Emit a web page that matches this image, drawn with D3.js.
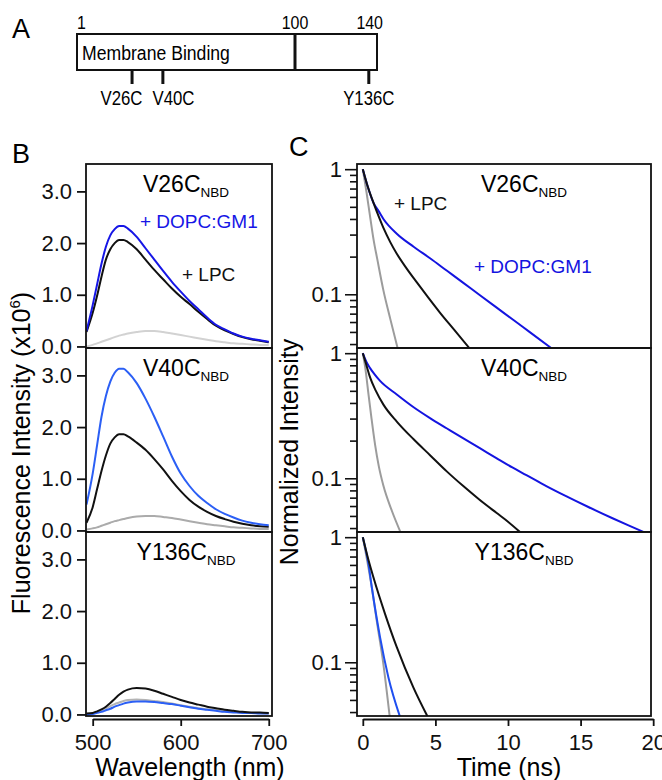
<!DOCTYPE html>
<html>
<head>
<meta charset="utf-8">
<script src="https://cdn.jsdelivr.net/npm/d3@7/dist/d3.min.js"></script>
<style>
body{margin:0;background:#fff;}
svg{font-family:"Liberation Sans",Arial,Helvetica,sans-serif;}
</style>
</head>
<body>
<svg id="fig" width="662" height="780"></svg>
<script>
// ---- panel A: protein schematic ----
var domainEnds = [1, 100, 140]
var mutants = ["V26C", "V40C", "Y136C"]
var mutantResidues = [26, 40, 136]

// ---- panel B: emission spectra (x10^6) ----
var wavelengths = [493,500,505,510,515,520,525,530,535,540,550,560,570,580,590,600,610,620,630,640,650,660,670,680,690,700]
var v26Buffer = [0.0,0.03,0.06,0.09,0.12,0.15,0.18,0.21,0.23,0.25,0.28,0.3,0.3,0.28,0.25,0.22,0.19,0.16,0.13,0.1,0.08,0.06,0.05,0.04,0.03,0.03]
var v26Lpc = [0.28,0.65,0.98,1.35,1.68,1.88,2.0,2.06,2.06,2.02,1.88,1.68,1.48,1.3,1.12,0.96,0.82,0.67,0.53,0.4,0.31,0.24,0.18,0.14,0.11,0.08]
var v26Lipid = [0.3,0.8,1.2,1.6,1.93,2.15,2.27,2.33,2.33,2.28,2.12,1.9,1.68,1.46,1.25,1.06,0.88,0.72,0.56,0.42,0.33,0.25,0.19,0.15,0.12,0.09]
var v40Buffer = [0.02,0.04,0.06,0.09,0.12,0.15,0.18,0.2,0.22,0.24,0.27,0.28,0.28,0.26,0.24,0.21,0.18,0.15,0.12,0.1,0.08,0.06,0.05,0.04,0.03,0.03]
var v40Lpc = [0.15,0.45,0.8,1.15,1.45,1.68,1.8,1.86,1.86,1.82,1.7,1.56,1.38,1.18,0.96,0.76,0.59,0.46,0.36,0.28,0.22,0.17,0.13,0.1,0.08,0.07]
var v40Lipid = [0.5,1.1,1.65,2.2,2.6,2.88,3.05,3.13,3.13,3.06,2.85,2.55,2.2,1.82,1.43,1.1,0.86,0.67,0.53,0.41,0.32,0.25,0.19,0.15,0.12,0.1]
var y136Buffer = [0.0,0.02,0.05,0.08,0.12,0.16,0.2,0.23,0.26,0.28,0.29,0.28,0.26,0.24,0.21,0.18,0.15,0.12,0.1,0.08,0.06,0.05,0.04,0.03,0.03,0.02]
var y136Lpc = [0.02,0.03,0.06,0.1,0.15,0.22,0.3,0.38,0.44,0.48,0.51,0.5,0.46,0.4,0.34,0.28,0.23,0.19,0.15,0.12,0.09,0.07,0.05,0.04,0.04,0.03]
var y136Lipid = [0.0,0.01,0.03,0.05,0.08,0.11,0.15,0.18,0.21,0.23,0.25,0.25,0.24,0.22,0.2,0.17,0.14,0.11,0.09,0.07,0.05,0.04,0.03,0.03,0.02,0.02]
var intensityTicks = [0, 1, 2, 3]
var wavelengthTicks = [500, 600, 700]

// ---- panel C: lifetime decays [time ns, normalized intensity] ----
var v26BufferDecay = [[0,1],[0.25,0.66],[0.5,0.42],[0.75,0.27],[1.0,0.19],[1.4,0.11],[1.9,0.063],[2.4,0.037]]
var v26LpcDecay = [[0,1],[0.35,0.72],[0.73,0.54],[1.1,0.417],[1.42,0.339],[1.9,0.26],[2.34,0.211],[3.0,0.162],[3.71,0.125],[4.5,0.0944],[5.31,0.0714],[6.3,0.0519],[7.35,0.037]]
var v26LipidDecay = [[0,1],[0.35,0.72],[0.73,0.54],[1.1,0.46],[1.42,0.4],[2.34,0.305],[3.5,0.24],[4.63,0.194],[5.8,0.154],[6.9,0.124],[8.0,0.0995],[9.2,0.0785],[10.4,0.062],[11.5,0.0498],[13.0,0.037]]
var v40BufferDecay = [[0,1],[0.2,0.72],[0.39,0.47],[0.6,0.3],[0.85,0.184],[1.1,0.125],[1.42,0.087],[2.0,0.055],[2.6,0.037]]
var v40LpcDecay = [[0,1],[0.25,0.8],[0.5,0.64],[0.9,0.5],[1.42,0.388],[2.34,0.284],[3.5,0.205],[4.63,0.153],[5.8,0.113],[6.9,0.087],[8.0,0.068],[9.2,0.053],[10.0,0.045],[10.85,0.037]]
var v40LipidDecay = [[0,1],[0.25,0.85],[0.5,0.76],[0.8,0.68],[1.19,0.6],[2.34,0.468],[3.5,0.37],[4.63,0.303],[5.8,0.25],[6.9,0.209],[8.06,0.174],[9.2,0.145],[10.3,0.122],[11.27,0.106],[12.64,0.0867],[14.0,0.072],[15.5,0.0592],[17.2,0.0479],[18.3,0.042],[19.4,0.037]]
var y136BufferDecay = [[0,1],[0.6,0.41],[1.0,0.2],[1.4,0.1],[1.85,0.037]]
var y136LpcDecay = [[0,1],[0.4,0.65],[0.73,0.478],[1.53,0.244],[2.34,0.132],[3.48,0.063],[4.45,0.037]]
var y136LipidDecay = [[0,1],[0.4,0.6],[0.62,0.398],[1.19,0.158],[1.76,0.076],[2.55,0.037]]
var decayMajorTicks = [0.1, 1]
var decayMinorTicks = [0.04,0.05,0.06,0.07,0.08,0.09,0.2,0.3,0.4,0.5,0.6,0.7,0.8,0.9]
var timeTicks = [0, 5, 10, 15, 20]

var svg = d3.select("#fig")
var panelH = 184
var panelTops = [164, 164 + panelH, 164 + 2 * panelH]

var lineB = function(xs, ys)
{
    return d3.line()
        .x(function(d, i) { return xs(wavelengths[i]); })
        .y(function(d) { return ys(d); })
        .curve(d3.curveMonotoneX)
}
var lineC = function(xs, ys)
{
    return d3.line()
        .x(function(d) { return xs(d[0]); })
        .y(function(d) { return ys(d[1]); })
        .curve(d3.curveMonotoneX)
}

var addTitle = function(g, name, x, y)
{
    var t = g.append("text")
        .attr("x", x).attr("y", y)
        .attr("text-anchor", "middle")
        .attr("font-size", 23)
    t.append("tspan").text(name)
    t.append("tspan").text("NBD").attr("font-size", 13.5).attr("dy", 5)
}

var addLabel = function(g, txt, x, y, color)
{
    g.append("text").text(txt)
        .attr("x", x).attr("y", y)
        .attr("font-size", 19)
        .attr("fill", color)
}

// narrow text used in the schematic
var narrowText = function(g, txt, x, y, anchor, size)
{
    return g.append("text").text(txt)
        .attr("transform", "translate(" + x + "," + y + ") scale(0.84,1)")
        .attr("text-anchor", anchor)
        .attr("font-size", size)
}

// ================= panel A =================
var drawSchematic = function()
{
    var xA = d3.scaleLinear().domain(domainEnds).range([77, 295, 377])
    var g = svg.append("g")
    g.append("text").text("A").attr("x", 12).attr("y", 38).attr("font-size", 27)
    g.append("rect")
        .attr("x", xA(1)).attr("y", 34)
        .attr("width", xA(140) - xA(1)).attr("height", 36)
        .attr("fill", "none").attr("stroke", "#111").attr("stroke-width", 2)
    g.append("line")
        .attr("x1", xA(100)).attr("x2", xA(100))
        .attr("y1", 34).attr("y2", 70)
        .attr("stroke", "#111").attr("stroke-width", 3)
    narrowText(g, "1", xA(1), 29, "start", 19)
    narrowText(g, "100", xA(100), 29, "middle", 19)
    narrowText(g, "140", xA(140) + 6, 29, "end", 19)
    narrowText(g, "Membrane Binding", xA(1) + 5, 60, "start", 21)

    g.selectAll(".mut")
        .data(mutantResidues)
        .enter()
        .append("line")
        .attr("x1", function(d) { return xA(d); })
        .attr("x2", function(d) { return xA(d); })
        .attr("y1", 70).attr("y2", 84)
        .attr("stroke", "#111").attr("stroke-width", 3)

    // keep the mutant labels from running into each other
    var labelX = mutantResidues.map(function(d) { return xA(d); })
    var minGap = 52
    for (var i = 1; i < labelX.length; i++) {
        var gap = labelX[i] - labelX[i - 1]
        if (gap < minGap) {
            labelX[i - 1] -= (minGap - gap) / 2
            labelX[i] += (minGap - gap) / 2
        }
    }
    mutants.forEach(function(m, i)
    {
        narrowText(g, m, labelX[i], 105, "middle", 20)
    })
}

// ================= panel B =================
var drawSpectra = function()
{
    var left = 86, right = 272
    var xB = d3.scaleLinear().domain([492.4, 703.7]).range([left, right])
    var sets = [
        {name:"V26C", buffer:v26Buffer, lpc:v26Lpc, lipid:v26Lipid, grey:"#d2d2d2", blue:"#1616e6"},
        {name:"V40C", buffer:v40Buffer, lpc:v40Lpc, lipid:v40Lipid, grey:"#ababab", blue:"#2b5ff5"},
        {name:"Y136C", buffer:y136Buffer, lpc:y136Lpc, lipid:y136Lipid, grey:"#b4b4b4", blue:"#2b5ff5"}
    ]
    svg.append("text").text("B").attr("x", 12).attr("y", 163).attr("font-size", 27)

    sets.forEach(function(s, k)
    {
        var top = panelTops[k]
        var yB = d3.scaleLinear().domain([-0.03, 3.53]).range([top + panelH, top])
        var g = svg.append("g")
        var clipId = "clipB" + k
        g.append("clipPath").attr("id", clipId)
            .append("rect").attr("x", left).attr("y", top)
            .attr("width", right - left).attr("height", panelH)
        var plot = g.append("g").attr("clip-path", "url(#" + clipId + ")")
        plot.append("path").datum(s.buffer).attr("d", lineB(xB, yB))
            .attr("fill", "none").attr("stroke", s.grey).attr("stroke-width", 2)
        var lpcPath = plot.append("path").datum(s.lpc).attr("d", lineB(xB, yB))
            .attr("fill", "none").attr("stroke", "#111").attr("stroke-width", 2)
        plot.append("path").datum(s.lipid).attr("d", lineB(xB, yB))
            .attr("fill", "none").attr("stroke", s.blue).attr("stroke-width", 2)
        if (k == 2) {
            lpcPath.raise()
        }
        g.append("rect").attr("x", left).attr("y", top)
            .attr("width", right - left).attr("height", panelH)
            .attr("fill", "none").attr("stroke", "#111").attr("stroke-width", 1.8)
        var ax = g.append("g")
            .attr("transform", "translate(" + left + ",0)")
            .call(d3.axisLeft(yB).tickValues(intensityTicks).tickFormat(d3.format(".1f")).tickSize(9).tickPadding(5))
        ax.select(".domain").remove()
        ax.selectAll("line").attr("stroke", "#111").attr("stroke-width", 1.8)
        ax.selectAll("text").attr("font-size", 22).attr("fill", "#111")
            .attr("font-family", "Liberation Sans, Arial, sans-serif")
        addTitle(g, s.name, 186, top + 28)
    })

    addLabel(svg, "+ DOPC:GM1", 140, 228, "#1616e6")
    addLabel(svg, "+ LPC", 182, 281, "#111")

    var xAxisScale = d3.scaleLinear().domain([500, 700]).range([xB(500), xB(700)])
    var xa = svg.append("g")
        .attr("transform", "translate(0,719)")
        .call(d3.axisBottom(xAxisScale).tickValues(wavelengthTicks).tickSize(7).tickSizeOuter(0).tickPadding(8))
    xa.selectAll("line,path").attr("stroke", "#111").attr("stroke-width", 1.8)
    xa.selectAll("text").attr("font-size", 22).attr("fill", "#111")
        .attr("font-family", "Liberation Sans, Arial, sans-serif")

    svg.append("text").text("Wavelength (nm)")
        .attr("x", 190).attr("y", 776)
        .attr("text-anchor", "middle").attr("font-size", 25)

    var yt = svg.append("text")
        .attr("transform", "translate(30,453) rotate(-90)")
        .attr("text-anchor", "middle").attr("font-size", 25)
    yt.append("tspan").text("Fluorescence Intensity (x10")
    yt.append("tspan").text("6").attr("font-size", 15).attr("dy", -10)
    yt.append("tspan").text(")").attr("dy", 10)
}

// ================= panel C =================
var drawDecays = function()
{
    var left = 357, right = 651
    var xC = d3.scaleLinear().domain([-0.4, 19.85]).range([left, right])
    var sets = [
        {name:"V26C", buffer:v26BufferDecay, lpc:v26LpcDecay, lipid:v26LipidDecay, blue:"#1414e0"},
        {name:"V40C", buffer:v40BufferDecay, lpc:v40LpcDecay, lipid:v40LipidDecay, blue:"#1414e0"},
        {name:"Y136C", buffer:y136BufferDecay, lpc:y136LpcDecay, lipid:y136LipidDecay, blue:"#1f4ff0"}
    ]
    svg.append("text").text("C").attr("x", 289).attr("y", 156).attr("font-size", 27)

    sets.forEach(function(s, k)
    {
        var top = panelTops[k]
        var yC = d3.scaleLog().domain([0.0372, 1.1]).range([top + panelH, top])
        var g = svg.append("g")
        var clipId = "clipC" + k
        g.append("clipPath").attr("id", clipId)
            .append("rect").attr("x", left).attr("y", top)
            .attr("width", right - left).attr("height", panelH)
        var plot = g.append("g").attr("clip-path", "url(#" + clipId + ")")
        plot.append("path").datum(s.buffer).attr("d", lineC(xC, yC))
            .attr("fill", "none").attr("stroke", "#9c9c9c").attr("stroke-width", 2)
        plot.append("path").datum(s.lipid).attr("d", lineC(xC, yC))
            .attr("fill", "none").attr("stroke", s.blue).attr("stroke-width", 2)
        plot.append("path").datum(s.lpc).attr("d", lineC(xC, yC))
            .attr("fill", "none").attr("stroke", "#111").attr("stroke-width", 2)
        g.append("rect").attr("x", left).attr("y", top)
            .attr("width", right - left).attr("height", panelH)
            .attr("fill", "none").attr("stroke", "#111").attr("stroke-width", 1.8)
        var major = g.append("g")
            .attr("transform", "translate(" + left + ",0)")
            .call(d3.axisLeft(yC).tickValues(decayMajorTicks).tickFormat(function(d) { return d; }).tickSize(12).tickPadding(3))
        major.select(".domain").remove()
        var minor = g.append("g")
            .attr("transform", "translate(" + left + ",0)")
            .call(d3.axisLeft(yC).tickValues(decayMinorTicks).tickFormat("").tickSize(7))
        minor.select(".domain").remove()
        g.selectAll(".tick line").attr("stroke", "#111").attr("stroke-width", 1.6)
        major.selectAll("text").attr("font-size", 22).attr("fill", "#111")
            .attr("font-family", "Liberation Sans, Arial, sans-serif")
        addTitle(g, s.name, 524, top + 28)
    })

    addLabel(svg, "+ LPC", 394, 210, "#111")
    addLabel(svg, "+ DOPC:GM1", 474, 273, "#1414e0")

    var tAxisScale = d3.scaleLinear().domain([0, 20]).range([xC(0), xC(20)])
    var xa = svg.append("g")
        .attr("transform", "translate(0,719)")
        .call(d3.axisBottom(tAxisScale).tickValues(timeTicks).tickSize(7).tickSizeOuter(0).tickPadding(8))
    xa.selectAll("line,path").attr("stroke", "#111").attr("stroke-width", 1.8)
    xa.selectAll("text").attr("font-size", 22).attr("fill", "#111")
        .attr("font-family", "Liberation Sans, Arial, sans-serif")

    svg.append("text").text("Time (ns)")
        .attr("x", 509).attr("y", 776)
        .attr("text-anchor", "middle").attr("font-size", 25)

    svg.append("text").text("Normalized Intensity")
        .attr("transform", "translate(298,452) rotate(-90)")
        .attr("text-anchor", "middle").attr("font-size", 25)
}

drawSchematic()
drawSpectra()
drawDecays()
</script>
</body>
</html>
